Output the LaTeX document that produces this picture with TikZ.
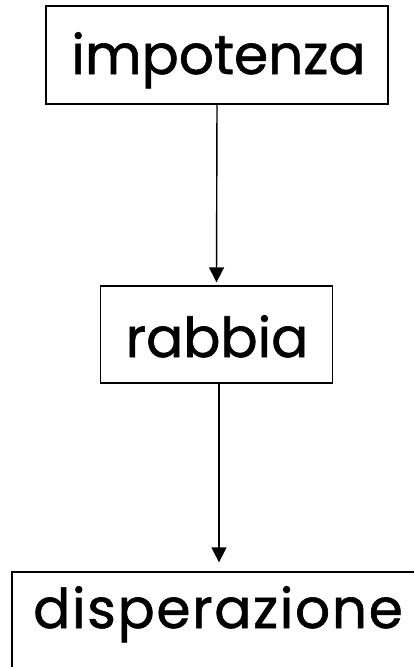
\documentclass[tikz,border=0pt]{standalone}
\usepackage{fontspec}
\newfontfamily\wordfont[FakeBold=1.1]{Poppins}
\usetikzlibrary{arrows.meta}
\begin{document}
\begin{tikzpicture}[x=1pt,y=1pt,
  box/.style={draw=black,line width=1.3pt,inner sep=0pt},
  word/.style={font=\wordfont\fontsize{55}{66}\selectfont,anchor=base,inner sep=0pt},
  arr/.style={line width=1.4pt,-{Triangle[length=15pt,width=15pt]}}]
\useasboundingbox (0,0) rectangle (413,-667);
\node[box,minimum width=342pt,minimum height=98pt] (b1) at (217,-55) {};
\node[box,minimum width=231.5pt,minimum height=97pt] (b2) at (216.5,-334.5) {};
\node[box,minimum width=412pt,minimum height=98pt] (b3) at (218,-621) {};
\node[word] (t1) at (218.5,-74) {impotenza};
\node[word] (t2) at (217,-357) {rabbia};
\node[word] (t3) at (218,-628) {\addfontfeature{LetterSpace=3}disperazione};
\draw[arr] (b1.south) -- ([yshift=3pt]b2.north);
\draw[arr] ([xshift=2.5pt]b2.south) -- ([xshift=2.5pt,yshift=9pt]b2.south |- b3.north);
\end{tikzpicture}
\end{document}
